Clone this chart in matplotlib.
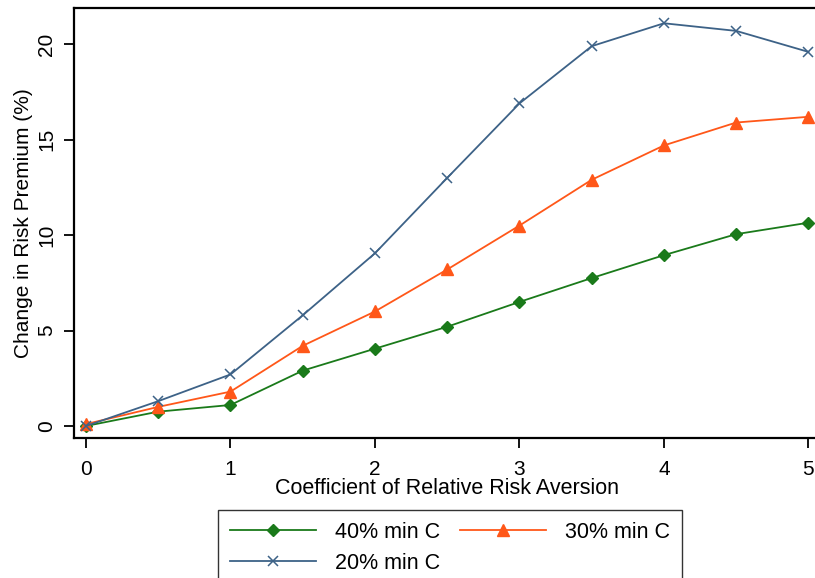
import matplotlib
matplotlib.use("Agg")
import matplotlib.pyplot as plt

plt.rcParams['font.family'] = ['Liberation Sans', 'DejaVu Sans']

rra = [0, 0.5, 1, 1.5, 2, 2.5, 3, 3.5, 4, 4.5, 5]
min40 = [0.0, 0.75, 1.1, 2.9, 4.05, 5.2, 6.5, 7.75, 8.95, 10.05, 10.65]
min30 = [0.1, 1.0, 1.8, 4.2, 6.0, 8.2, 10.5, 12.9, 14.7, 15.9, 16.2]
min20 = [0.0, 1.3, 2.7, 5.8, 9.05, 13.0, 16.9, 19.9, 21.1, 20.7, 19.6]

fig = plt.figure(figsize=(8.15, 5.78), dpi=100)
ax = fig.add_axes([74/815, 1-438/578, (820-74)/815, (438-8)/578])

h40, = ax.plot(rra, min40, color='#1a7a1a', lw=1.3, marker='D', ms=6, label='40% min C')
h30, = ax.plot(rra, min30, color='#ff5719', lw=1.3, marker='^', ms=9, label='30% min C')
h20, = ax.plot(rra, min20, color='#3d6287', lw=1.3, marker='x', ms=6.5, mew=1.1, label='20% min C')

ax.set_xlim(-0.083, 5.08)
ax.set_ylim(-0.63, 21.9)
ax.set_xticks([0, 1, 2, 3, 4, 5])
ax.set_yticks([0, 5, 10, 15, 20])
ax.tick_params(direction='out', length=7, width=1.3, labelsize=15)
ax.tick_params(axis='x', pad=9)
ax.tick_params(axis='y', pad=6)
for lab in ax.get_yticklabels():
    lab.set_rotation(90)
    lab.set_va('center')
for s in ax.spines.values():
    s.set_linewidth(1.6)

ax.set_xlabel('Coefficient of Relative Risk Aversion', fontsize=15.5, labelpad=-1)
ax.set_ylabel('Change in Risk Premium (%)', fontsize=15, labelpad=3)

fig.legend([h40, h20, h30], ['40% min C', '20% min C', '30% min C'], ncol=2,
           loc='upper left', bbox_to_anchor=(218/815, 1-510/578), fontsize=15.5,
           frameon=True, fancybox=False, edgecolor='black', handlelength=4,
           handletextpad=0.9, columnspacing=0.9, borderpad=0.55, labelspacing=0.45,
           borderaxespad=0)

fig.savefig('out.png', dpi=100)
